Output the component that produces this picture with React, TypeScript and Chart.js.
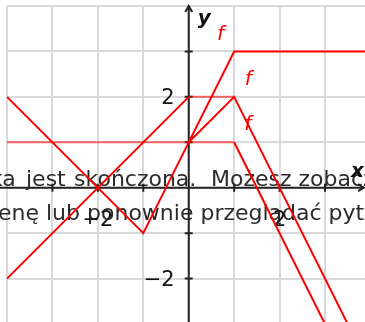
import React, { useEffect, useRef } from "react";
import { Chart, registerables } from "chart.js";

Chart.register(...registerables);

// ---- data ----
const X_MIN = -4;
const X_MAX = 3.88;
const Y_MIN = -2.956;
const Y_MAX = 4;

const graphTopX = [-4, -1, 1, 4];
const graphTopY = [2, -1, 3, 3];

const riseLeftX = [-4, 0];
const riseLeftY = [-2, 2];

const peakX = [0, 1, 4];
const peakY = [1, 2, -4];

const dropX = [1, 4];
const dropY = [1, -5];

const flatHighX = [0, 1];
const flatHighY = [2, 2];

const flatLowX = [-4, 1];
const flatLowY = [1, 1];

const xTickLabels = [-2, 2];
const yTickLabels = [-2, 2];

const fLabelX = [0.7, 1.31, 1.3];
const fLabelY = [3.37, 2.38, 1.39];

// page text (justified lines of a paragraph behind the graph)
const textLine1Parts = ["ka", "jest", "skończona.", "Możesz zobaczyć swoją"];
const textLine1Starts = [-10, 26, 74, 211];
const textLine2Parts = ["enę lub ponownie przeglądać pytania."];
const textLine2Starts = [-2];

const pts = (xs: number[], ys: number[]) => xs.map((v, i) => ({ x: v, y: ys[i] }));

const RED = "#ff0000";
const LIGHT_RED = "rgba(255,0,0,0.55)";

const fmt = (v: number) => (v < 0 ? "\u2212" + Math.abs(v) : String(v));

const overlay = {
  id: "overlay",
  beforeDatasetsDraw(chart: any) {
    const { ctx } = chart;
    const xs = chart.scales.x;
    const ys = chart.scales.y;
    const x0 = xs.getPixelForValue(0);
    const y0 = ys.getPixelForValue(0);
    const W = chart.width;
    const H = chart.height;
    ctx.save();

    // page text behind the graph
    ctx.font = '22px "DejaVu Sans"';
    ctx.fillStyle = "#2b2b2b";
    ctx.textAlign = "left";
    ctx.textBaseline = "alphabetic";
    textLine1Parts.forEach((w, i) => ctx.fillText(w, textLine1Starts[i], 186));
    textLine2Parts.forEach((w, i) => ctx.fillText(w, textLine2Starts[i], 220));

    // axes
    ctx.strokeStyle = "#222";
    ctx.lineWidth = 2;
    ctx.beginPath();
    ctx.moveTo(0, y0);
    ctx.lineTo(W - 1, y0);
    ctx.moveTo(x0, 6);
    ctx.lineTo(x0, H);
    ctx.stroke();
    // arrows
    ctx.beginPath();
    ctx.moveTo(x0 - 3.5, 12);
    ctx.lineTo(x0, 6);
    ctx.lineTo(x0 + 3.5, 12);
    ctx.moveTo(W - 7, y0 - 3.5);
    ctx.lineTo(W - 1, y0);
    ctx.lineTo(W - 7, y0 + 3.5);
    ctx.stroke();
    // tick marks
    ctx.beginPath();
    for (let v = Math.ceil(X_MIN + 1); v <= Math.floor(X_MAX); v++) {
      if (v === 0) continue;
      const px = xs.getPixelForValue(v);
      ctx.moveTo(px, y0 - 4);
      ctx.lineTo(px, y0 + 4);
    }
    for (let v = Math.ceil(Y_MIN); v <= Math.floor(Y_MAX - 1); v++) {
      if (v === 0) continue;
      const py = ys.getPixelForValue(v);
      ctx.moveTo(x0 - 4, py);
      ctx.lineTo(x0 + 4, py);
    }
    ctx.stroke();

    // tick labels
    ctx.fillStyle = "#111";
    ctx.font = '21px "DejaVu Sans"';
    ctx.textAlign = "center";
    ctx.textBaseline = "alphabetic";
    xTickLabels.forEach((v) => {
      ctx.fillText(fmt(v), xs.getPixelForValue(v), y0 + 38);
    });
    ctx.textAlign = "right";
    yTickLabels.forEach((v) => {
      ctx.fillText(fmt(v), x0 - 14, ys.getPixelForValue(v) + 7.5);
    });

    // axis names
    ctx.font = 'italic bold 20px "DejaVu Sans"';
    ctx.textAlign = "left";
    ctx.fillText("y", x0 + 9, 24);
    ctx.fillText("x", W - 14, y0 - 11);
    ctx.restore();
  },
  afterDatasetsDraw(chart: any) {
    const { ctx } = chart;
    const xs = chart.scales.x;
    const ys = chart.scales.y;
    ctx.save();
    ctx.fillStyle = RED;
    ctx.font = 'italic 20px "DejaVu Sans"';
    ctx.textAlign = "center";
    ctx.textBaseline = "middle";
    fLabelX.forEach((v, i) => {
      ctx.fillText("f", xs.getPixelForValue(v), ys.getPixelForValue(fLabelY[i]));
    });
    ctx.restore();
  },
};

export default function App() {
  const ref = useRef<HTMLCanvasElement | null>(null);
  useEffect(() => {
    if (!ref.current) return;
    const ds = (data: any[], color: string) => ({
      data,
      borderColor: color,
      borderWidth: 2,
      pointRadius: 0,
      fill: false,
      tension: 0,
    });
    const chart = new Chart(ref.current, {
      type: "line",
      data: {
        datasets: [
          ds(pts(flatLowX, flatLowY), LIGHT_RED),
          ds(pts(flatHighX, flatHighY), LIGHT_RED),
          ds(pts(graphTopX, graphTopY), RED),
          ds(pts(riseLeftX, riseLeftY), RED),
          ds(pts(peakX, peakY), RED),
          ds(pts(dropX, dropY), RED),
        ],
      },
      options: {
        animation: false,
        responsive: false,
        devicePixelRatio: 1,
        layout: { padding: { left: 7, top: 6, right: 0, bottom: 0 } },
        plugins: { legend: { display: false }, tooltip: { enabled: false } },
        scales: {
          x: {
            type: "linear",
            min: X_MIN,
            max: X_MAX,
            ticks: { display: false, stepSize: 1, includeBounds: false },
            grid: { color: "#d9d9d9", lineWidth: 2, drawTicks: false },
            border: { display: false },
          },
          y: {
            type: "linear",
            min: Y_MIN,
            max: Y_MAX,
            ticks: { display: false, stepSize: 1, includeBounds: false },
            grid: { color: "#d9d9d9", lineWidth: 2, drawTicks: false },
            border: { display: false },
          },
        },
      },
      plugins: [overlay],
    });
    return () => chart.destroy();
  }, []);
  return (
    <div style={{ position: "fixed", left: 0, top: 0, width: 365, height: 322, background: "#fff" }}>
      <canvas ref={ref} width={365} height={322} style={{ display: "block" }} />
    </div>
  );
}
